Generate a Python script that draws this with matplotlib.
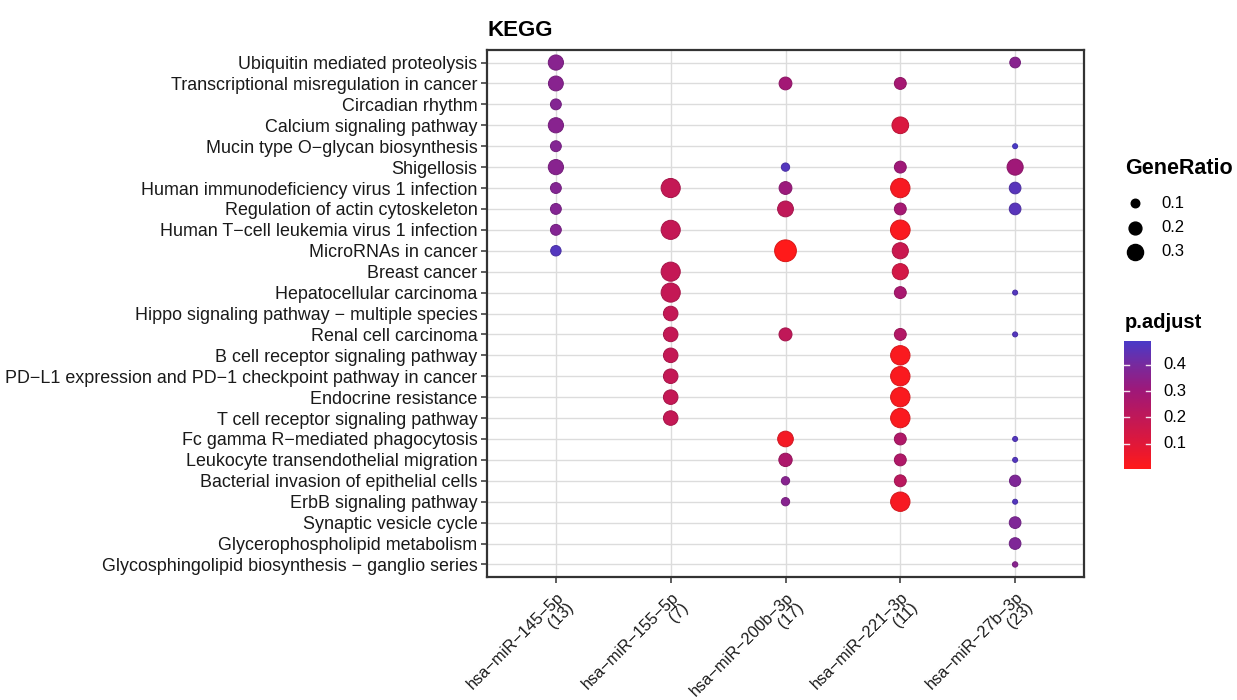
import numpy as np
import matplotlib
matplotlib.use("Agg")
import matplotlib.pyplot as plt
import matplotlib.transforms as mtransforms
from matplotlib.colors import LinearSegmentedColormap, Normalize

plt.rcParams['font.family'] = ['Liberation Sans', 'DejaVu Sans']

# ---------------- data ----------------
pathways = [
    "Ubiquitin mediated proteolysis",
    "Transcriptional misregulation in cancer",
    "Circadian rhythm",
    "Calcium signaling pathway",
    "Mucin type O\u2212glycan biosynthesis",
    "Shigellosis",
    "Human immunodeficiency virus 1 infection",
    "Regulation of actin cytoskeleton",
    "Human T\u2212cell leukemia virus 1 infection",
    "MicroRNAs in cancer",
    "Breast cancer",
    "Hepatocellular carcinoma",
    "Hippo signaling pathway \u2212 multiple species",
    "Renal cell carcinoma",
    "B cell receptor signaling pathway",
    "PD\u2212L1 expression and PD\u22121 checkpoint pathway in cancer",
    "Endocrine resistance",
    "T cell receptor signaling pathway",
    "Fc gamma R\u2212mediated phagocytosis",
    "Leukocyte transendothelial migration",
    "Bacterial invasion of epithelial cells",
    "ErbB signaling pathway",
    "Synaptic vesicle cycle",
    "Glycerophospholipid metabolism",
    "Glycosphingolipid biosynthesis \u2212 ganglio series",
]

mirna_labels = [
    "hsa\u2212miR\u2212145\u22125p\n(13)",
    "hsa\u2212miR\u2212155\u22125p\n(7)",
    "hsa\u2212miR\u2212200b\u22123p\n(17)",
    "hsa\u2212miR\u2212221\u22123p\n(11)",
    "hsa\u2212miR\u221227b\u22123p\n(23)",
]

# miR-145-5p
mir145_terms = [0, 1, 2, 3, 4, 5, 6, 7, 8, 9]
mir145_ratio = [0.27, 0.26, 0.15, 0.27, 0.15, 0.27, 0.15, 0.15, 0.15, 0.14]
mir145_padj = [0.36, 0.36, 0.37, 0.36, 0.37, 0.36, 0.37, 0.37, 0.37, 0.47]

# miR-155-5p
mir155_terms = [6, 8, 10, 11, 12, 13, 14, 15, 16, 17]
mir155_ratio = [0.41, 0.41, 0.41, 0.41, 0.25, 0.25, 0.25, 0.25, 0.25, 0.25]
mir155_padj = [0.19, 0.19, 0.19, 0.19, 0.19, 0.19, 0.19, 0.19, 0.19, 0.19]

# miR-200b-3p
mir200b_terms = [1, 5, 6, 7, 9, 13, 18, 19, 20, 21]
mir200b_ratio = [0.20, 0.095, 0.20, 0.29, 0.52, 0.205, 0.285, 0.215, 0.095, 0.095]
mir200b_padj = [0.29, 0.47, 0.31, 0.20, 0.004, 0.20, 0.04, 0.26, 0.36, 0.36]

# miR-221-3p
mir221_terms = [1, 3, 5, 6, 7, 8, 9, 10, 11, 13, 14, 15, 16, 17, 18, 19, 20, 21]
mir221_ratio = [0.175, 0.32, 0.175, 0.42, 0.175, 0.43, 0.30, 0.30, 0.175, 0.175,
                0.42, 0.42, 0.42, 0.42, 0.175, 0.175, 0.175, 0.42]
mir221_padj = [0.28, 0.12, 0.30, 0.03, 0.28, 0.02, 0.17, 0.14, 0.27, 0.24,
               0.02, 0.02, 0.02, 0.02, 0.25, 0.25, 0.22, 0.03]

# miR-27b-3p
mir27b_terms = [0, 4, 5, 6, 7, 11, 13, 18, 19, 20, 21, 22, 23, 24]
mir27b_ratio = [0.146, 0.043, 0.30, 0.17, 0.17, 0.043, 0.043, 0.043, 0.043,
                0.16, 0.043, 0.17, 0.17, 0.048]
mir27b_padj = [0.36, 0.49, 0.30, 0.46, 0.46, 0.47, 0.47, 0.47, 0.47,
               0.38, 0.47, 0.38, 0.38, 0.36]

series = [
    (mir145_terms, mir145_ratio, mir145_padj),
    (mir155_terms, mir155_ratio, mir155_padj),
    (mir200b_terms, mir200b_ratio, mir200b_padj),
    (mir221_terms, mir221_ratio, mir221_padj),
    (mir27b_terms, mir27b_ratio, mir27b_padj),
]

legend_ratios = [0.1, 0.2, 0.3]
cbar_ticks = [0.1, 0.2, 0.3, 0.4]

# colour ramp (low p.adjust -> red, high -> blue), as seen in the picture
ramp_colors = ["#FF1A1A", "#E0183A", "#C01858", "#A01878", "#782A9E", "#4A3AC8"]

all_padj = np.concatenate([np.array(s[2]) for s in series])
norm = Normalize(vmin=all_padj.min(), vmax=all_padj.max())
ramp_pos = [0.0, 0.1, 0.2, 0.3, 0.4, norm.vmax]
ramp_nodes = [(np.clip(norm(p), 0, 1), c) for p, c in zip(ramp_pos, ramp_colors)]
ramp_nodes[0] = (0.0, ramp_colors[0])
ramp_nodes[-1] = (1.0, ramp_colors[-1])
cmap = LinearSegmentedColormap.from_list("padj", ramp_nodes)

PX2PT = 72.0 / 100.0


def size_of(ratio):
    d_px = 32.6 * np.sqrt(np.asarray(ratio, float)) - 1.75
    return (d_px * PX2PT) ** 2


# ---------------- figure ----------------
W, H = 1237, 700
fig = plt.figure(figsize=(W / 100, H / 100), dpi=100)
ax = fig.add_axes([487 / W, 1 - 577 / H, (1084 - 487) / W, (577 - 50) / H])

n_rows = len(pathways)
ax.set_xlim(0.4, len(mirna_labels) + 0.6)
ax.set_ylim(n_rows - 0.4, -0.6)

for xi, (terms, ratio, padj) in enumerate(series):
    x = np.full(len(terms), xi + 1)
    c = cmap(norm(np.array(padj)))
    edge = c.copy()
    edge[:, :3] *= 0.85
    ax.scatter(x, terms, s=size_of(ratio), c=c, edgecolors=edge,
               linewidths=0.7, zorder=3)

ax.set_xticks(np.arange(1, len(mirna_labels) + 1))
ax.set_xticklabels(mirna_labels, rotation=45, ha='right', va='top',
                   rotation_mode='anchor', multialignment='right',
                   fontsize=11.8, color='#1a1a1a', linespacing=0.95)
shift = mtransforms.ScaledTranslation(-14 / 100, 0, fig.dpi_scale_trans)
for lbl in ax.get_xticklabels():
    lbl.set_transform(lbl.get_transform() + shift)
ax.set_yticks(np.arange(n_rows))
ax.set_yticklabels(pathways, fontsize=12.9, color='#1a1a1a')
ax.tick_params(axis='both', length=4, width=1.1, color='#333333', pad=3)
ax.tick_params(axis='x', pad=5)
ax.grid(True, color='#dcdcdc', linewidth=1.0, zorder=0)
ax.set_axisbelow(True)
for sp in ax.spines.values():
    sp.set_linewidth(1.6)
    sp.set_color('#333333')

fig.text(487 / W, 1 - 30 / H, "KEGG", fontsize=16, fontweight='bold',
         ha='left', va='center')

# ---------------- size legend ----------------
fig.text(1125 / W, 1 - 168 / H, "GeneRatio", fontsize=15.5, fontweight='bold',
         ha='left', va='center')
leg_ax = fig.add_axes([1118 / W, 1 - 265 / H, 80 / W, 80 / H])
leg_ax.set_xlim(0, 80)
leg_ax.set_ylim(80, 0)
leg_ax.axis('off')
for k, r in enumerate(legend_ratios):
    yy = 203 - 185 + k * 24.5
    leg_ax.scatter([17], [yy], s=size_of(r), color='black', clip_on=False)
    leg_ax.text(43, yy, f"{r:.1f}", fontsize=12, va='center', ha='left')

# ---------------- colour bar ----------------
fig.text(1125 / W, 1 - 322 / H, "p.adjust", fontsize=14.5, fontweight='bold',
         ha='left', va='center')
cax = fig.add_axes([1124 / W, 1 - 469 / H, 27 / W, (469 - 341) / H])
grad = np.linspace(norm.vmin, norm.vmax, 300)[:, None]
cax.imshow(grad, aspect='auto', cmap=cmap, norm=norm, origin='lower',
           extent=[0, 1, norm.vmin, norm.vmax])
cax.set_xlim(0, 1)
cax.set_ylim(norm.vmin, norm.vmax)
cax.set_xticks([])
cax.set_yticks([])
for sp in cax.spines.values():
    sp.set_visible(False)
for tk in cbar_ticks:
    cax.plot([0, 0.2], [tk, tk], color='#f4e4f0', lw=1.0)
    cax.plot([0.8, 1], [tk, tk], color='#f4e4f0', lw=1.0)
    cax.text(1.45, tk, f"{tk:.1f}", fontsize=12, va='center', ha='left',
             transform=cax.transData)

fig.savefig("out.png", dpi=100)
